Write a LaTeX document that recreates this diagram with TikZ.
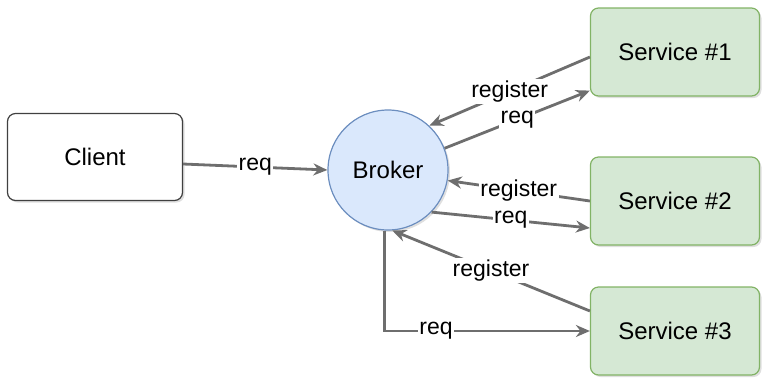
\documentclass[tikz,border=0pt]{standalone}
\usepackage{fontspec}
\setmainfont{Liberation Sans}
\usepackage{xcolor}
\usepackage{tikz}
\usetikzlibrary{arrows.meta,shadows}

\definecolor{brokerfill}{HTML}{DAE8FC}
\definecolor{brokerline}{HTML}{6C8EBF}
\definecolor{svcfill}{HTML}{D5E8D4}
\definecolor{svcline}{HTML}{82B366}
\definecolor{linkgray}{HTML}{6E6E6E}

\begin{document}
\begin{tikzpicture}[x=0.5pt, y=-0.5pt,
    every node/.style={font=\fontsize{12}{14}\selectfont},
    clientbox/.style={draw=black!75, fill=white, rounded corners=4pt, line width=0.6pt,
        minimum width=87.5pt, minimum height=43.5pt,
        drop shadow={opacity=0.25, shadow xshift=1pt, shadow yshift=-1pt}},
    brokerbox/.style={circle, draw=brokerline, fill=brokerfill, line width=0.6pt,
        minimum size=60pt, inner sep=0pt,
        drop shadow={opacity=0.25, shadow xshift=1pt, shadow yshift=-1pt}},
    svcbox/.style={draw=svcline, fill=svcfill, rounded corners=4pt, line width=0.6pt,
        minimum width=84.5pt, minimum height=44pt,
        drop shadow={opacity=0.25, shadow xshift=1pt, shadow yshift=-1pt}},
    link/.style={draw=linkgray, line width=1.4pt, -{Stealth[length=7pt,width=6pt]}},
    lbl/.style={fill=white, inner sep=0.8pt, font=\fontsize{11.5}{13}\selectfont}]
            \useasboundingbox (0,0) rectangle (762,377);
            % Boxes
                        \node[clientbox] (Client) at (95,157) {Client};
                        \node[brokerbox] (Broker) at (388,170) {Broker};
                        \node[svcbox] (Svc1) at (675,52) {Service \#1};
                        \node[svcbox] (Svc2) at (675,201) {Service \#2};
                        \node[svcbox] (Svc3) at (675,331) {Service \#3};
            % Links
                        \draw[link] ([yshift=-3.5pt]Client.east) -- node[lbl] {req} (Broker.west);
                        \draw[link] ([yshift=-2.5pt]Svc1.west) -- node[lbl] {register} (Broker.47);
                        \draw[link] (Broker.21) -- node[lbl] {req} ([yshift=3pt]Svc1.south west);
                        \draw[link] (Svc2.west) -- node[lbl] {register} (Broker.-10);
                        \draw[link] (Broker.-44) -- node[lbl] {req} ([yshift=-13.5pt]Svc2.west);
                        \draw[link] ([yshift=10pt]Svc3.west) -- node[lbl] {register} (Broker.-86);
                        \draw[link] (Broker.-93) |- node[lbl, pos=0.625] {req} (Svc3.west);
        \end{tikzpicture}
\end{document}
